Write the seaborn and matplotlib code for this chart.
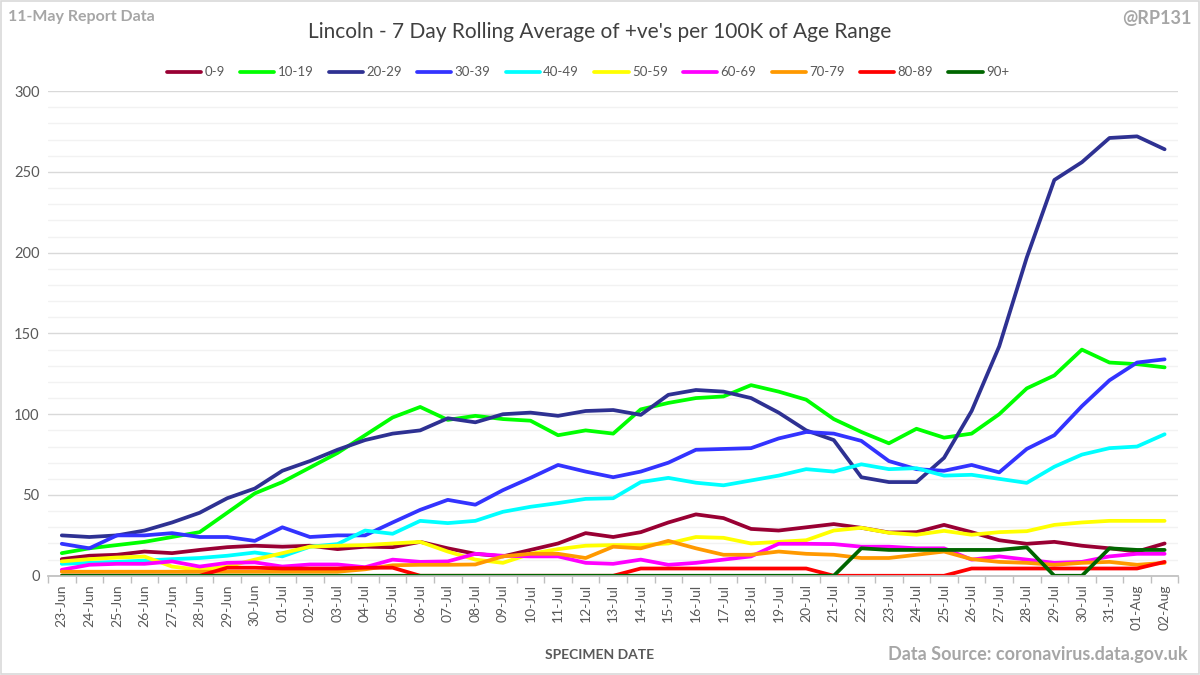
import seaborn as sns
import numpy as np
import matplotlib.pyplot as plt
import pandas as pd
from matplotlib.patches import Rectangle
from matplotlib.ticker import MultipleLocator

# dates 23-Jun .. 02-Aug
dates = pd.date_range("2020-06-23", "2020-08-02").strftime("%d-%b").tolist()

age_0_9 = [10.3, 12.4, 13, 15, 14, 16, 17.7, 18.6, 18, 18.6, 16.5, 18, 17.7, 21, 17, 13.6, 12, 16, 20, 26.4,
           24, 27, 33, 38, 35.7, 29, 28, 30, 32, 29.7, 26.8, 27, 31.5, 27, 22, 19.8, 21, 18.6, 17, 15, 20]
age_10_19 = [14, 17, 19, 21, 24, 27, 39, 51, 58, 67, 76, 87, 98, 104.5, 96.5, 99, 97, 96, 87, 90,
             88, 103, 107, 110, 111, 118, 114, 109, 97, 89, 82, 91, 85.5, 88, 100, 116, 124, 140, 132, 131, 129]
age_20_29 = [25, 24, 25, 28, 33, 39, 48, 54, 65, 71, 78, 84, 88, 90, 97.5, 95, 100, 101, 99, 102,
             102.6, 99.6, 112, 115, 114, 110, 101, 90, 84, 61, 58, 58, 73, 102, 142, 197, 245, 256, 271, 272, 264]
age_30_39 = [19.8, 17, 25, 25, 26.4, 24, 24, 21.6, 30, 24, 25, 25, 33, 40.8, 47, 44, 53, 60.6, 68.6, 64.5,
             61, 64.5, 70, 78, 78.5, 79, 85, 89, 88, 83.5, 71, 66, 65, 68.6, 64, 78.5, 87, 105, 121, 132, 134]
age_40_49 = [7.4, 8, 8.6, 9.4, 10.3, 11, 12.4, 14.4, 12, 18, 19.6, 28, 26, 34, 32.6, 34, 39.6, 42.7, 45, 47.6,
             48, 58, 60.6, 57.6, 56, 59, 62, 66, 64.5, 69, 66, 66.6, 62, 62.5, 60, 57.5, 67.5, 75, 79, 80, 87.6]
age_50_59 = [8.9, 10.3, 11.3, 11.9, 5.7, 3.7, 5.7, 10, 14, 18, 18.6, 19, 20, 21, 15, 10, 8, 13.6, 16.5, 18.6,
             19, 19, 20, 24, 23.5, 20, 21, 22, 28, 29.7, 26.6, 25.4, 27.8, 25.4, 27, 27.6, 31.5, 33, 34, 34, 34]
age_60_69 = [3.7, 6.8, 7.4, 7.4, 8.9, 5.7, 8, 8.3, 5.7, 7, 7, 5.3, 10, 8.6, 8.9, 13.6, 12.4, 12, 12, 8,
             7.4, 10, 6.8, 8, 10, 12, 19.8, 19.8, 19.6, 18, 18, 17, 17, 10, 12, 10, 8, 8.6, 12, 13.6, 13.6]
age_70_79 = [2.5, 2.5, 2.5, 2.5, 2.5, 2.5, 2.5, 2.5, 2.5, 2.5, 2.5, 4, 6.5, 6.8, 6.8, 7, 12, 13.6, 13.6, 11,
             18, 17, 21.6, 17, 13, 13, 15, 13.6, 13, 11, 11, 13, 15, 10.3, 8.6, 8, 6.8, 8, 8.6, 6.8, 8]
age_80_89 = [0, 0, 0, 0, 0, 0, 5, 5, 4.5, 4.5, 4.5, 5, 5, 0, 0, 0, 0, 0, 0, 0,
             0, 4.5, 4.5, 4.5, 4.5, 4.5, 4.5, 4.5, 0, 0, 0, 0, 0, 4.5, 4.5, 4.5, 4.5, 4.5, 4.5, 4.5, 8.6]
age_90_plus = [0, 0, 0, 0, 0, 0, 0, 0, 0, 0, 0, 0, 0, 0, 0, 0, 0, 0, 0, 0,
               0, 0, 0, 0, 0, 0, 0, 0, 0, 17, 16, 16, 16, 16, 16, 17.6, 0, 0, 17, 16, 16]

groups = ["0-9", "10-19", "20-29", "30-39", "40-49", "50-59", "60-69", "70-79", "80-89", "90+"]
series = [age_0_9, age_10_19, age_20_29, age_30_39, age_40_49,
          age_50_59, age_60_69, age_70_79, age_80_89, age_90_plus]
colours = ["#990033", "#00FF00", "#2E3192", "#3333FF", "#00FFFF",
           "#FFFF00", "#FF00FF", "#FF9900", "#FF0000", "#006600"]

df = pd.concat([pd.DataFrame({"day": np.arange(len(dates)), "rate": s, "age": g})
                for g, s in zip(groups, series)], ignore_index=True)

sns.set_theme(style="white")
plt.rcParams["font.family"] = ["Lato", "DejaVu Sans"]

fig = plt.figure(figsize=(12, 6.75), dpi=100)
ax = fig.add_axes([0.040, 0.147, 0.942, 0.718])

sns.lineplot(data=df, x="day", y="rate", hue="age", hue_order=groups,
             palette=dict(zip(groups, colours)), linewidth=2.7, ax=ax, legend=True)

ax.set_xlim(-0.5, len(dates) - 0.5)
ax.set_ylim(0, 300)
ax.yaxis.set_major_locator(MultipleLocator(50))
ax.yaxis.set_minor_locator(MultipleLocator(10))
ax.grid(which="major", axis="y", color="#d9d9d9", linewidth=1.0)
ax.grid(which="minor", axis="y", color="#f2f2f2", linewidth=1.0)
ax.set_axisbelow(True)

ax.set_xticks(np.arange(len(dates)))
ax.set_xticklabels(dates, rotation=90)
ax.set_xticks(np.arange(len(dates) + 1) - 0.5, minor=True)
ax.tick_params(axis="x", which="major", length=0, labelsize=10, labelcolor="#595959", pad=6)
ax.tick_params(axis="x", which="minor", length=5, color="#bfbfbf", bottom=True)
ax.tick_params(axis="y", which="both", length=0, labelsize=10.5, labelcolor="#595959", pad=6)

for side in ["top", "right", "left"]:
    ax.spines[side].set_visible(False)
ax.spines["bottom"].set_color("#bfbfbf")

ax.set_xlabel("")
ax.set_ylabel("")

handles, labels = ax.get_legend_handles_labels()
ax.legend(handles, labels, loc="center", bbox_to_anchor=(0.49, 0.893), bbox_transform=fig.transFigure,
          ncol=10, frameon=False, fontsize=9.5, handlelength=2.6, columnspacing=1.15,
          handletextpad=0.25, labelcolor="#595959")

fig.text(0.5, 0.953, "Lincoln - 7 Day Rolling Average of +ve's per 100K of Age Range",
         ha="center", va="center", fontsize=15, color="#404040")
fig.text(0.007, 0.975, "11-May Report Data", ha="left", va="center", fontsize=11.5,
         color="#a6a6a6", fontweight="bold")
fig.text(0.993, 0.972, "@RP131", ha="right", va="center", fontsize=13,
         color="#a6a6a6", fontweight="bold")
fig.text(0.5, 0.030, "SPECIMEN DATE", ha="center", va="center", fontsize=10,
         color="#595959", fontweight="bold")
fig.text(0.990, 0.030, "Data Source: coronavirus.data.gov.uk", ha="right", va="center",
         fontsize=13, color="#a6a6a6", fontweight="bold")

fig.patches.append(Rectangle((0.001, 0.001), 0.998, 0.998, transform=fig.transFigure,
                             fill=False, edgecolor="#d9d9d9", linewidth=1.2))

fig.savefig("out.png", dpi=100)
